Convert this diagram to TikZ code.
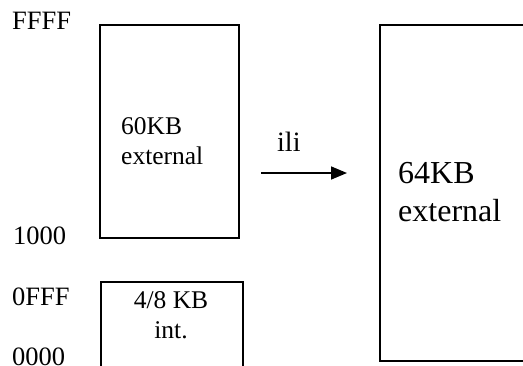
\documentclass[tikz,border=0pt]{standalone}
\usepackage{fontspec}
\setmainfont{Liberation Serif}
\usetikzlibrary{arrows.meta}
\begin{document}
\begin{tikzpicture}[x=1pt,y=-1pt,
  membox/.style={draw=black,line width=1.6pt},
  addr/.style={anchor=base west,inner sep=0pt,font=\fontsize{26.5}{30}\selectfont},
  lbl/.style={align=left,inner sep=0pt,font=\fontsize{25.5}{30}\selectfont},
  biglbl/.style={align=left,inner sep=0pt,font=\fontsize{32}{38}\selectfont},
  link/.style={line width=1.6pt,-{Triangle[length=16pt,width=13pt]}}]
  \useasboundingbox (0,0) rectangle (523,365);
  \begin{scope}
    \clip (0,0) rectangle (523,365);
    % memory blocks
    \draw[membox] (100,25) rectangle (239,238);
    \draw[membox] (101,282) rectangle (243,372);
    \draw[membox] (380,25) rectangle (540,361);
    % address labels
    \node[addr] (ffff) at (12,29) {FFFF};
    \node[addr] (a1000) at (13,244) {1000};
    \node[addr] (offf) at (12,305) {0FFF};
    \node[addr] (zero) at (12,365) {0000};
  \end{scope}
  % block contents
  \node[lbl,anchor=north west] (ext60) at (121,117) {60KB\\external};
  \node[lbl,align=center,anchor=north] (int) at (171,291) {4/8 KB\\int.};
  \node[biglbl,anchor=north west] (ext64) at (398,162) {64KB\\external};
  % mapping arrow
  \coordinate (from) at (261,173);
  \coordinate (to) at (347,173);
  \draw[link] (from) -- (to);
  \node[anchor=base west,inner sep=0pt,font=\fontsize{28}{32}\selectfont] (ili) at (277,151) {ili};
\end{tikzpicture}
\end{document}
